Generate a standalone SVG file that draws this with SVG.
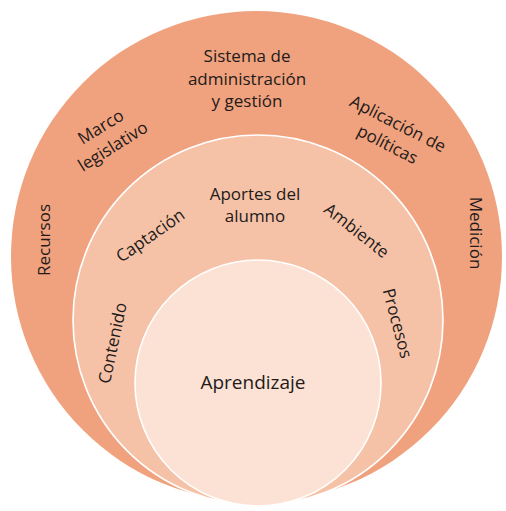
<svg xmlns="http://www.w3.org/2000/svg" width="506" height="511" viewBox="0 0 506 511">
<style>
  .t { font-family: "Open Sans", "Liberation Sans", sans-serif; font-size: 17px; fill: #231a1a; text-anchor: middle; dominant-baseline: central; }
  .big { font-size: 19px; }
  .ring { stroke: #ffffff; stroke-width: 1.6; }
</style>
<rect width="506" height="511" fill="#ffffff"/>
<g id="outer">
  <circle cx="256.5" cy="256.5" r="245.5" fill="#F0A27E"/>
  <text class="t" x="247" y="55">Sistema de</text>
  <text class="t" x="247" y="78">administración</text>
  <text class="t" x="247" y="100">y gestión</text>
  <g transform="translate(106.5,136) rotate(-32)">
    <text class="t" x="0" y="-11.5">Marco</text>
    <text class="t" x="0" y="11.5">legislativo</text>
  </g>
  <g transform="translate(393,133.5) rotate(27)">
    <text class="t" x="0" y="-11.5">Aplicación de</text>
    <text class="t" x="0" y="11.5">políticas</text>
  </g>
  <text class="t" transform="translate(43,240) rotate(-90)">Recursos</text>
  <text class="t" transform="translate(476,233) rotate(90)">Medición</text>
</g>
<g id="middle">
  <circle class="ring" cx="258" cy="320" r="185" fill="#F5C2A7"/>
  <text class="t" x="255" y="193">Aportes del</text>
  <text class="t" x="255" y="215">alumno</text>
  <text class="t" transform="translate(150,235) rotate(-35)">Captación</text>
  <text class="t" transform="translate(357,230) rotate(38)">Ambiente</text>
  <text class="t" transform="translate(112,343) rotate(-78)">Contenido</text>
  <text class="t" transform="translate(398,323) rotate(75)">Procesos</text>
</g>
<g id="inner">
  <circle class="ring" cx="258" cy="383" r="123" fill="#FCE2D5"/>
  <text class="t big" x="253" y="382">Aprendizaje</text>
</g>
<g id="connectors"></g>
</svg>
